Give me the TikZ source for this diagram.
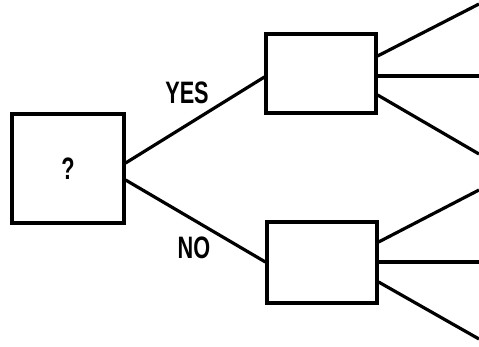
\documentclass[tikz,border=0pt]{standalone}
\usepackage{fontspec}
\setmainfont{Liberation Sans}
\usetikzlibrary{calc}
\begin{document}
\begin{tikzpicture}[x=1pt,y=-1pt,
  box/.style={draw,line width=3.2pt,rectangle,inner sep=0pt},
  branch/.style={line width=3.2pt},
  lbl/.style={font=\bfseries\fontsize{31}{31}\selectfont,inner sep=0pt,xscale=0.7}]
  \useasboundingbox (0,0) rectangle (479,346);
  % decision box and the two outcome boxes
  \node[box,minimum width=112pt,minimum height=109pt] (q) at (68,168.5) {};
  \node[lbl] (qm) at (68,169) {?};
  \node[box,minimum width=110pt,minimum height=79pt] (up) at (321,73.5) {};
  \node[box,minimum width=110pt,minimum height=81pt] (dn) at (322,262.5) {};
  % branch labels
  \node[lbl] (yes) at (187,92.5) {YES};
  \node[lbl] (no) at (194,248) {NO};
  % free ends of the outgoing lines
  \coordinate (u1) at (479,4);
  \coordinate (u2) at (479,76);
  \coordinate (u3) at (479,154);
  \coordinate (d1) at (479,190);
  \coordinate (d2) at (479,262);
  \coordinate (d3) at (479,339);
  % yes / no branches
  \draw[branch] ([yshift=5.5pt]q.east) -- ([yshift=-3.5pt]up.west);
  \draw[branch] ([yshift=-11.5pt]q.east) -- ([yshift=0.5pt]dn.west);
  % fan-out from the upper box
  \draw[branch] ([yshift=17.5pt]up.east) -- (u1);
  \draw[branch] ([yshift=-2.5pt]up.east) -- (u2);
  \draw[branch] ([yshift=-21.5pt]up.east) -- (u3);
  % fan-out from the lower box
  \draw[branch] ([yshift=20.5pt]dn.east) -- (d1);
  \draw[branch] ([yshift=0.5pt]dn.east) -- (d2);
  \draw[branch] ([yshift=-19.5pt]dn.east) -- (d3);
\end{tikzpicture}
\end{document}
